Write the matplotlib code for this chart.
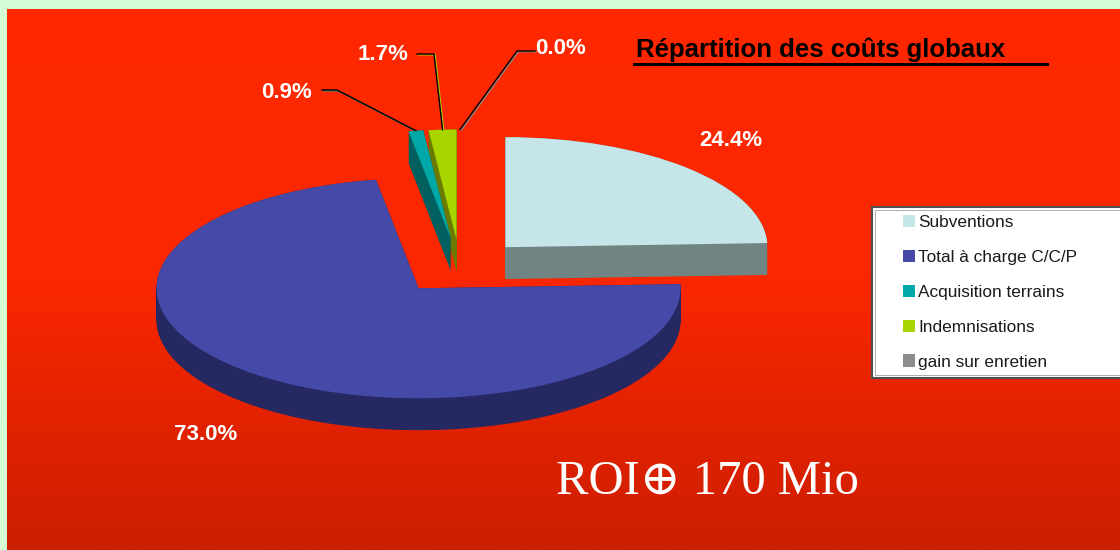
import numpy as np
import matplotlib
matplotlib.use('Agg')
import matplotlib.pyplot as plt
from matplotlib.colors import LinearSegmentedColormap
from matplotlib.patches import Rectangle
from matplotlib.lines import Line2D
from matplotlib.transforms import offset_copy

plt.rcParams['font.family'] = ['Liberation Sans', 'DejaVu Sans']

# Cost breakdown (% of total)
categories = ["Subventions", "Total à charge C/C/P", "Acquisition terrains",
              "Indemnisations", "gain sur enretien"]
shares = [24.4, 73.0, 0.9, 1.7, 0.0]

top_colors = ["#C5E5E8", "#4549A8", "#00A8A8", "#A8D400", "#8C8C8C"]
side_colors = ["#718484", "#252861", "#006060", "#6B7A00", "#505050"]

W, H = 1120, 550
fig = plt.figure(figsize=(W / 100, H / 100), dpi=100, facecolor="#D4FBD4")


def fx(px):
    return px / W


def fy(py):
    return 1 - py / H


# red gradient panel behind everything
bg = fig.add_axes([fx(7), 0, 1 - fx(7), fy(9)])
red_cmap = LinearSegmentedColormap.from_list("panel", ["#FF2800", "#FA2700", "#CC1E00"])
bg.imshow(np.linspace(0, 1, 256).reshape(-1, 1), aspect='auto', cmap=red_cmap,
          extent=[0, 1, 0, 1])
bg.set_axis_off()

# pie axes: one data unit = 262 px across, 110 px down (flattened disc)
cx, cy, rx, ry = 460, 267, 262, 110
ax = fig.add_axes([0, 0, 1, 1])
ax.patch.set_visible(False)


def px2d(px, py):
    return (px - cx) / rx, (cy - py) / ry


explode = [0.25] * len(shares)
depth = 0.29

# extruded sides: stack darker copies of the pie downwards
for off in np.linspace(depth, 0.0, 36):
    ax.pie(shares, colors=side_colors, startangle=90, counterclock=False,
           explode=explode, center=(0, -off), wedgeprops=dict(linewidth=0))

wedges, _ = ax.pie(shares, colors=top_colors, startangle=90, counterclock=False,
                   explode=explode, wedgeprops=dict(linewidth=0))

ax.set_aspect('auto')
ax.set_xlim(-cx / rx, (W - cx) / rx)
ax.set_ylim(-(H - cy) / ry, cy / ry)
ax.set_axis_off()

pct = [100 * v / sum(shares) for v in shares]

label_kw = dict(color='white', fontsize=16, fontweight='bold',
                ha='center', va='center')

# big slices: labels without leader lines
ax.text(*px2d(731, 141), f"{pct[0]:.1f}%", **label_kw)
ax.text(*px2d(206, 434), f"{pct[1]:.1f}%", **label_kw)

# small slices: labels with leader lines to the outer arc
leaders = {
    2: ((286, 92), (322, 90), (337, 90)),
    3: ((383, 55), (417, 54), (434, 54)),
    4: ((561, 48), (535, 51), (517, 51)),
}
shadow = offset_copy(ax.transData, fig=fig, x=1.2, y=-0.8, units='dots')
for i, (txt_pos, start, elbow) in leaders.items():
    w = wedges[i]
    mid = np.deg2rad((w.theta1 + w.theta2) / 2)
    ax_x = w.center[0] + w.r * np.cos(mid)
    ax_y = w.center[1] + w.r * np.sin(mid)
    xs = [px2d(*start)[0], px2d(*elbow)[0], ax_x]
    ys = [px2d(*start)[1], px2d(*elbow)[1], ax_y]
    ax.plot(xs, ys, color=top_colors[i], lw=0.9, transform=shadow)
    ax.plot(xs, ys, color='black', lw=1.0)
    ax.text(*px2d(*txt_pos), f"{pct[i]:.1f}%", **label_kw)

# title with underline
fig.text(fx(636), fy(57), "Répartition des coûts globaux", fontsize=18.5,
         fontweight='bold', color='black', ha='left', va='baseline')
fig.add_artist(Line2D([fx(634), fx(1047)], [fy(64), fy(64)], color='black', lw=2.2))

# ROI note
fig.text(fx(556), fy(494), "ROI\u2295 170 Mio", fontsize=35, color='white',
         family=['Liberation Serif', 'DejaVu Serif'], ha='left', va='baseline')

# legend box runs off the right edge
fig.add_artist(Rectangle((fx(872), fy(378)), fx(1130) - fx(872), fy(207) - fy(378),
                         transform=fig.transFigure, facecolor='white',
                         edgecolor='#505050', lw=1.5, zorder=1))
fig.add_artist(Rectangle((fx(875), fy(375)), fx(1130) - fx(875), fy(210) - fy(375),
                         transform=fig.transFigure, facecolor='none',
                         edgecolor='#A0A0A0', lw=0.6, zorder=1))
fig.legend(wedges, categories, loc='upper left', bbox_to_anchor=(fx(903), fy(215)),
           frameon=False, fontsize=12.4, handlelength=0.7, handleheight=0.7,
           handletextpad=0.2, labelspacing=1.15, borderpad=0, borderaxespad=0,
           labelcolor='#1A1A1A')

fig.savefig("out.png", dpi=100, facecolor=fig.get_facecolor())
